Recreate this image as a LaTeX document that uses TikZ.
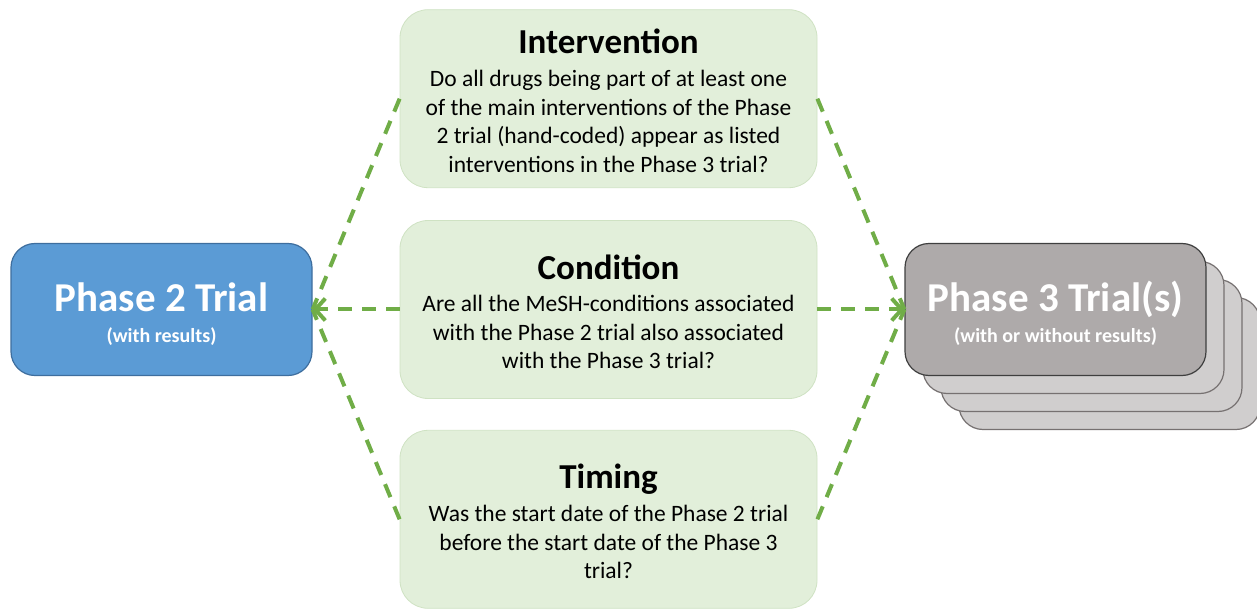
\documentclass[tikz,border=0pt]{standalone}
\usepackage{fontspec}
\setmainfont{Carlito}
\usetikzlibrary{positioning, arrows.meta, backgrounds}
\definecolor{qgreen}{HTML}{E2EFDA}
\definecolor{qedge}{HTML}{CFE2C3}
\definecolor{ptwoblue}{HTML}{5B9BD5}
\definecolor{ptwoedge}{HTML}{3E6E9E}
\definecolor{pthreegray}{HTML}{AEAAAA}
\definecolor{pthreeedge}{HTML}{3F3F3F}
\definecolor{stackgray}{HTML}{D0CECE}
\definecolor{stackedge}{HTML}{767171}
\definecolor{linkgreen}{HTML}{70AD47}
\newcommand{\qtitle}[1]{{\fontsize{35}{40}\selectfont\bfseries\rule{0pt}{29pt}#1}\\[4pt]}
\newcommand{\ttitle}[1]{{\fontsize{41}{46}\selectfont\rule{0pt}{38pt}#1}\\}
\tikzset{
    x=1pt, y=-1pt,
    node distance=32pt,
    question/.style={rounded corners=28pt, fill=qgreen, draw=qedge, line width=0.8pt,
        minimum width=417pt, minimum height=178pt, align=center,
        font=\fontsize{23.5}{28.6}\selectfont},
    trial/.style={rounded corners=24pt, minimum width=301pt, minimum height=132pt,
        align=center, text=white, font=\fontsize{20}{31}\selectfont\bfseries, line width=1.2pt},
    phasetwo/.style={trial, fill=ptwoblue, draw=ptwoedge},
    phasethree/.style={trial, fill=pthreegray, draw=pthreeedge},
    stackbox/.style={trial, fill=stackgray, draw=stackedge},
    link/.style={draw=linkgreen, line width=4pt, dash pattern=on 14pt off 10pt},
    tip/.style={-{Straight Barb[length=10pt, width=22pt]}},
}

\begin{document}
\begin{tikzpicture}
    \useasboundingbox (0,0) rectangle (1257,609);

    \node[question] (cond) at (608.5,309.5) {\qtitle{Condition}
        Are all the MeSH-conditions associated\\
        with the Phase 2 trial also associated\\
        with the Phase 3 trial?};
    \node[question, above=of cond] (intv) {\qtitle{Intervention}
        Do all drugs being part of at least one\\
        of the main interventions of the Phase\\
        2 trial (hand-coded) appear as listed\\
        interventions in the Phase 3 trial?};
    \node[question, below=31pt of cond] (timing) {\qtitle{Timing}
        Was the start date of the Phase 2 trial\\
        before the start date of the Phase 3\\
        trial?};

    \node[phasetwo, left=87pt of cond] (p2) {\ttitle{Phase 2 Trial}
        (with results)};
    \node[phasethree, right=87pt of cond] (p3) {\ttitle{Phase 3 Trial(s)}
        (with or without results)};
    \begin{scope}[on background layer]
        \foreach \i in {3,2,1}
            \node[stackbox] (stack\i) at ([shift={(18*\i,18*\i)}]p3) {};
    \end{scope}

    \draw[link] (intv.west) -- (p2.east);
    \draw[link] (timing.west) -- (p2.east);
    \draw[link, tip] (cond.west) -- (p2.east);
    \draw[link] (intv.east) -- (p3.west);
    \draw[link] (timing.east) -- (p3.west);
    \draw[link, tip] (cond.east) -- (p3.west);
\end{tikzpicture}
\end{document}
